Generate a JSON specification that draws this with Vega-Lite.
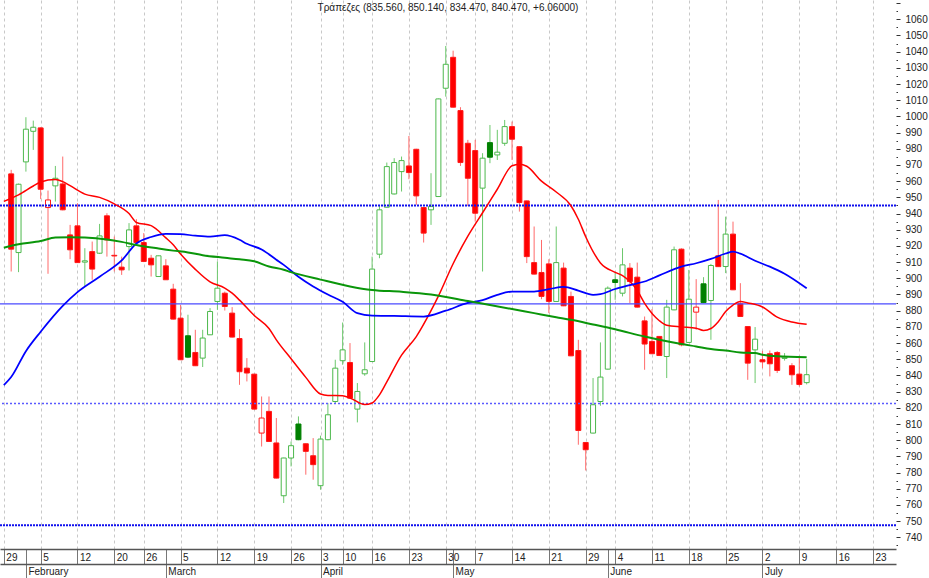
{
  "$schema": "https://vega.github.io/schema/vega-lite/v6.json",
  "width": 896,
  "height": 549,
  "autosize": {"type": "none"},
  "padding": {"left": 0, "top": 0, "right": 33, "bottom": 29},
  "background": "white",
  "config": {
    "view": {"stroke": null},
    "font": "Liberation Sans Narrow, Arial Narrow, Liberation Sans, sans-serif",
    "axis": {"labelOverlap": false, "labelFlush": false, "labelBound": false}
  },
  "title": {"text": "Τράπεζες (835.560, 850.140, 834.470, 840.470, +6.06000)", "fontSize": 10, "fontWeight": "normal", "color": "#222222", "offset": -15, "anchor": "middle"},
  "datasets": {
    "candles": [
      {"i":1,"date":"2018-01-30","open":964.5,"high":967.0,"low":904.2,"close":918.0},
      {"i":2,"date":"2018-01-31","open":915.9,"high":958.5,"low":903.8,"close":958.1},
      {"i":3,"date":"2018-02-01","open":971.9,"high":999.5,"low":965.9,"close":992.1},
      {"i":4,"date":"2018-02-02","open":990.8,"high":997.4,"low":979.3,"close":993.3},
      {"i":5,"date":"2018-02-05","open":992.9,"high":993.2,"low":948.9,"close":955.0},
      {"i":6,"date":"2018-02-06","open":943.7,"high":954.2,"low":902.8,"close":948.4},
      {"i":7,"date":"2018-02-07","open":957.1,"high":969.4,"low":947.4,"close":961.8},
      {"i":8,"date":"2018-02-08","open":958.3,"high":975.2,"low":942.0,"close":942.3},
      {"i":9,"date":"2018-02-09","open":926.8,"high":933.0,"low":911.8,"close":917.6},
      {"i":10,"date":"2018-02-12","open":932.4,"high":946.4,"low":909.5,"close":909.7},
      {"i":11,"date":"2018-02-13","open":910.0,"high":918.6,"low":894.9,"close":910.8},
      {"i":12,"date":"2018-02-14","open":916.5,"high":922.7,"low":899.1,"close":905.7},
      {"i":13,"date":"2018-02-15","open":915.5,"high":933.6,"low":915.0,"close":926.2},
      {"i":14,"date":"2018-02-16","open":938.6,"high":940.2,"low":913.4,"close":923.7},
      {"i":15,"date":"2018-02-20","open":914.2,"high":925.8,"low":904.2,"close":913.8},
      {"i":16,"date":"2018-02-21","open":906.9,"high":913.4,"low":902.1,"close":905.2},
      {"i":17,"date":"2018-02-22","open":919.6,"high":934.1,"low":904.8,"close":929.9},
      {"i":18,"date":"2018-02-23","open":932.4,"high":936.5,"low":922.0,"close":922.1},
      {"i":19,"date":"2018-02-26","open":922.1,"high":927.9,"low":910.0,"close":910.4},
      {"i":20,"date":"2018-02-27","open":912.4,"high":914.5,"low":901.1,"close":908.3},
      {"i":21,"date":"2018-02-28","open":901.1,"high":914.0,"low":900.8,"close":913.9},
      {"i":22,"date":"2018-03-01","open":907.7,"high":911.8,"low":899.0,"close":899.1},
      {"i":23,"date":"2018-03-02","open":893.3,"high":896.6,"low":874.6,"close":874.8},
      {"i":24,"date":"2018-03-05","open":875.4,"high":883.6,"low":849.5,"close":849.7},
      {"i":25,"date":"2018-03-06","open":864.5,"high":877.5,"low":850.7,"close":851.3},
      {"i":26,"date":"2018-03-07","open":854.2,"high":868.2,"low":845.8,"close":846.0},
      {"i":27,"date":"2018-03-08","open":850.7,"high":868.2,"low":845.2,"close":863.1},
      {"i":28,"date":"2018-03-09","open":865.1,"high":881.6,"low":865.0,"close":879.5},
      {"i":29,"date":"2018-03-12","open":885.7,"high":910.4,"low":880.5,"close":893.9},
      {"i":30,"date":"2018-03-13","open":890.8,"high":891.8,"low":880.1,"close":882.6},
      {"i":31,"date":"2018-03-14","open":878.5,"high":882.2,"low":863.5,"close":863.7},
      {"i":32,"date":"2018-03-15","open":862.8,"high":868.6,"low":834.2,"close":842.3},
      {"i":33,"date":"2018-03-16","open":844.5,"high":850.7,"low":836.3,"close":841.5},
      {"i":34,"date":"2018-03-19","open":840.8,"high":841.0,"low":819.0,"close":819.2},
      {"i":35,"date":"2018-03-20","open":804.4,"high":827.0,"low":796.1,"close":813.7},
      {"i":36,"date":"2018-03-21","open":817.8,"high":827.0,"low":799.0,"close":799.2},
      {"i":37,"date":"2018-03-22","open":798.3,"high":813.7,"low":776.4,"close":776.6},
      {"i":38,"date":"2018-03-23","open":765.7,"high":789.2,"low":761.2,"close":789.0},
      {"i":39,"date":"2018-03-26","open":789.0,"high":799.2,"low":783.8,"close":796.6},
      {"i":40,"date":"2018-03-27","open":810.0,"high":814.7,"low":800.0,"close":800.3},
      {"i":41,"date":"2018-03-28","open":797.8,"high":798.0,"low":778.7,"close":793.1},
      {"i":42,"date":"2018-03-29","open":790.4,"high":801.3,"low":775.6,"close":784.9},
      {"i":43,"date":"2018-04-03","open":771.9,"high":802.8,"low":769.4,"close":800.7},
      {"i":44,"date":"2018-04-04","open":800.3,"high":822.9,"low":800.0,"close":815.7},
      {"i":45,"date":"2018-04-05","open":823.9,"high":849.7,"low":822.9,"close":844.5},
      {"i":46,"date":"2018-04-10","open":849.1,"high":872.7,"low":846.6,"close":855.8},
      {"i":47,"date":"2018-04-11","open":848.0,"high":860.0,"low":825.8,"close":826.0},
      {"i":48,"date":"2018-04-12","open":819.2,"high":835.3,"low":811.0,"close":830.1},
      {"i":49,"date":"2018-04-13","open":841.0,"high":860.4,"low":839.8,"close":843.5},
      {"i":50,"date":"2018-04-16","open":848.6,"high":913.4,"low":848.4,"close":905.7},
      {"i":51,"date":"2018-04-17","open":914.9,"high":944.7,"low":912.4,"close":942.3},
      {"i":52,"date":"2018-04-18","open":943.9,"high":971.5,"low":943.5,"close":969.0},
      {"i":53,"date":"2018-04-19","open":952.1,"high":974.2,"low":951.8,"close":971.5},
      {"i":54,"date":"2018-04-20","open":965.9,"high":975.2,"low":953.6,"close":972.7},
      {"i":55,"date":"2018-04-23","open":969.4,"high":987.9,"low":961.2,"close":965.3},
      {"i":56,"date":"2018-04-24","open":979.7,"high":980.0,"low":945.4,"close":950.9},
      {"i":57,"date":"2018-04-25","open":943.7,"high":944.0,"low":922.1,"close":927.9},
      {"i":58,"date":"2018-04-26","open":942.3,"high":964.9,"low":933.0,"close":944.3},
      {"i":59,"date":"2018-04-27","open":950.5,"high":1011.0,"low":950.3,"close":1010.8},
      {"i":60,"date":"2018-04-30","open":1017.4,"high":1043.5,"low":1012.2,"close":1032.2},
      {"i":61,"date":"2018-05-02","open":1036.5,"high":1040.6,"low":1005.5,"close":1005.7},
      {"i":62,"date":"2018-05-03","open":1003.6,"high":1005.7,"low":969.4,"close":971.5},
      {"i":63,"date":"2018-05-04","open":983.4,"high":985.5,"low":944.7,"close":961.8},
      {"i":64,"date":"2018-05-07","open":978.9,"high":985.5,"low":935.0,"close":940.2},
      {"i":65,"date":"2018-05-08","open":955.7,"high":977.3,"low":904.2,"close":974.2},
      {"i":66,"date":"2018-05-09","open":983.8,"high":994.7,"low":971.1,"close":974.8},
      {"i":67,"date":"2018-05-10","open":976.2,"high":991.7,"low":973.1,"close":977.9},
      {"i":68,"date":"2018-05-11","open":983.4,"high":997.8,"low":981.8,"close":993.7},
      {"i":69,"date":"2018-05-14","open":993.7,"high":996.8,"low":973.1,"close":985.9},
      {"i":70,"date":"2018-05-15","open":981.3,"high":981.5,"low":941.2,"close":946.8},
      {"i":71,"date":"2018-05-16","open":947.8,"high":948.0,"low":909.4,"close":913.4},
      {"i":72,"date":"2018-05-17","open":909.7,"high":932.0,"low":902.4,"close":902.6},
      {"i":73,"date":"2018-05-18","open":903.6,"high":923.7,"low":887.1,"close":888.8},
      {"i":74,"date":"2018-05-21","open":908.9,"high":911.8,"low":878.5,"close":885.7},
      {"i":75,"date":"2018-05-22","open":885.7,"high":932.0,"low":885.5,"close":909.7},
      {"i":76,"date":"2018-05-23","open":906.3,"high":909.7,"low":882.8,"close":883.0},
      {"i":77,"date":"2018-05-24","open":888.8,"high":891.8,"low":851.9,"close":852.1},
      {"i":78,"date":"2018-05-25","open":855.4,"high":862.0,"low":797.2,"close":806.0},
      {"i":79,"date":"2018-05-29","open":798.6,"high":798.8,"low":781.3,"close":794.1},
      {"i":80,"date":"2018-05-30","open":804.4,"high":838.4,"low":804.2,"close":821.9},
      {"i":81,"date":"2018-05-31","open":823.9,"high":860.4,"low":821.3,"close":839.0},
      {"i":82,"date":"2018-06-01","open":843.9,"high":895.0,"low":843.7,"close":893.9},
      {"i":83,"date":"2018-06-04","open":899.1,"high":903.2,"low":886.7,"close":897.4},
      {"i":84,"date":"2018-06-05","open":890.8,"high":918.6,"low":888.8,"close":908.3},
      {"i":85,"date":"2018-06-06","open":906.3,"high":909.4,"low":884.7,"close":898.0},
      {"i":86,"date":"2018-06-07","open":900.7,"high":909.7,"low":882.0,"close":882.2},
      {"i":87,"date":"2018-06-08","open":873.7,"high":876.4,"low":843.5,"close":859.4},
      {"i":88,"date":"2018-06-11","open":861.0,"high":881.0,"low":853.2,"close":853.4},
      {"i":89,"date":"2018-06-12","open":864.1,"high":864.3,"low":852.1,"close":852.3},
      {"i":90,"date":"2018-06-13","open":851.7,"high":886.7,"low":838.4,"close":882.2},
      {"i":91,"date":"2018-06-14","open":880.5,"high":919.6,"low":880.3,"close":917.6},
      {"i":92,"date":"2018-06-15","open":918.0,"high":918.5,"low":858.0,"close":858.9},
      {"i":93,"date":"2018-06-18","open":860.4,"high":905.2,"low":860.2,"close":887.1},
      {"i":94,"date":"2018-06-19","open":879.1,"high":899.5,"low":868.2,"close":882.2},
      {"i":95,"date":"2018-06-20","open":896.6,"high":900.7,"low":884.8,"close":885.0},
      {"i":96,"date":"2018-06-21","open":886.3,"high":908.9,"low":862.0,"close":907.9},
      {"i":97,"date":"2018-06-22","open":913.9,"high":948.4,"low":907.0,"close":907.2},
      {"i":98,"date":"2018-06-25","open":907.3,"high":938.1,"low":903.2,"close":927.3},
      {"i":99,"date":"2018-06-26","open":927.3,"high":935.0,"low":892.7,"close":892.9},
      {"i":100,"date":"2018-06-27","open":884.2,"high":897.0,"low":876.2,"close":876.4},
      {"i":101,"date":"2018-06-28","open":870.2,"high":870.4,"low":837.3,"close":847.6},
      {"i":102,"date":"2018-06-29","open":855.8,"high":869.9,"low":835.3,"close":862.4},
      {"i":103,"date":"2018-07-02","open":849.7,"high":855.2,"low":844.5,"close":848.4},
      {"i":104,"date":"2018-07-03","open":853.4,"high":855.4,"low":839.4,"close":847.2},
      {"i":105,"date":"2018-07-04","open":854.2,"high":855.0,"low":841.5,"close":843.1},
      {"i":106,"date":"2018-07-05","open":850.5,"high":853.8,"low":849.2,"close":851.3},
      {"i":107,"date":"2018-07-06","open":846.0,"high":847.6,"low":834.2,"close":840.4},
      {"i":108,"date":"2018-07-09","open":840.8,"high":852.1,"low":833.2,"close":834.41},
      {"i":109,"date":"2018-07-10","open":835.56,"high":850.14,"low":834.47,"close":840.47}
    ],
    "averages": [
      {"i":0,"s":"fast","v":947.5},{"i":2,"s":"fast","v":951.5},{"i":4,"s":"fast","v":957},{"i":5,"s":"fast","v":959.5},{"i":7,"s":"fast","v":961},{"i":8,"s":"fast","v":959.7},{"i":9,"s":"fast","v":957.2},{"i":11,"s":"fast","v":952},{"i":13,"s":"fast","v":950},{"i":15,"s":"fast","v":946},{"i":17,"s":"fast","v":940},{"i":18,"s":"fast","v":934.5},{"i":20,"s":"fast","v":932.5},{"i":22,"s":"fast","v":925},{"i":23,"s":"fast","v":920.7},{"i":24,"s":"fast","v":915},{"i":26,"s":"fast","v":905.5},{"i":28,"s":"fast","v":897.8},{"i":30,"s":"fast","v":894},{"i":31,"s":"fast","v":890.8},{"i":32,"s":"fast","v":886.5},{"i":34,"s":"fast","v":877},{"i":36,"s":"fast","v":869},{"i":37,"s":"fast","v":862},{"i":39,"s":"fast","v":850.3},{"i":41,"s":"fast","v":838.8},{"i":43,"s":"fast","v":828.5},{"i":44,"s":"fast","v":827.6},{"i":46,"s":"fast","v":827.5},{"i":47,"s":"fast","v":826.1},{"i":49,"s":"fast","v":822},{"i":50,"s":"fast","v":823},{"i":51,"s":"fast","v":828},{"i":52,"s":"fast","v":836},{"i":54,"s":"fast","v":852.5},{"i":56,"s":"fast","v":864},{"i":58,"s":"fast","v":880},{"i":59,"s":"fast","v":889},{"i":61,"s":"fast","v":909},{"i":63,"s":"fast","v":926},{"i":65,"s":"fast","v":940.5},{"i":67,"s":"fast","v":955},{"i":69,"s":"fast","v":969.5},{"i":70,"s":"fast","v":970.5},{"i":71,"s":"fast","v":969.2},{"i":73,"s":"fast","v":960},{"i":75,"s":"fast","v":953.3},{"i":77,"s":"fast","v":944.8},{"i":78,"s":"fast","v":936.5},{"i":79,"s":"fast","v":925.7},{"i":81,"s":"fast","v":909.5},{"i":83,"s":"fast","v":903.7},{"i":84,"s":"fast","v":901.6},{"i":86,"s":"fast","v":892.5},{"i":87,"s":"fast","v":884.5},{"i":89,"s":"fast","v":873.8},{"i":90,"s":"fast","v":871},{"i":92,"s":"fast","v":870},{"i":94,"s":"fast","v":869.2},{"i":95,"s":"fast","v":867.8},{"i":96,"s":"fast","v":869},{"i":97,"s":"fast","v":873.2},{"i":98,"s":"fast","v":879.5},{"i":99,"s":"fast","v":883.5},{"i":100,"s":"fast","v":885.7},{"i":101,"s":"fast","v":884.8},{"i":103,"s":"fast","v":882.3},{"i":105,"s":"fast","v":876},{"i":107,"s":"fast","v":873},{"i":109,"s":"fast","v":871.6},
      {"i":0,"s":"mid","v":834},{"i":1,"s":"mid","v":839},{"i":3,"s":"mid","v":855},{"i":5,"s":"mid","v":867},{"i":8,"s":"mid","v":883},{"i":10,"s":"mid","v":891.5},{"i":13,"s":"mid","v":901},{"i":16,"s":"mid","v":911},{"i":18,"s":"mid","v":921.5},{"i":20,"s":"mid","v":925.5},{"i":22,"s":"mid","v":927.5},{"i":24,"s":"mid","v":927.3},{"i":26,"s":"mid","v":926.3},{"i":28,"s":"mid","v":925.7},{"i":30,"s":"mid","v":926.6},{"i":32,"s":"mid","v":923.8},{"i":33,"s":"mid","v":921.3},{"i":35,"s":"mid","v":917.8},{"i":37,"s":"mid","v":911.5},{"i":38,"s":"mid","v":908.3},{"i":40,"s":"mid","v":901},{"i":42,"s":"mid","v":895},{"i":44,"s":"mid","v":890},{"i":46,"s":"mid","v":885.5},{"i":48,"s":"mid","v":878.5},{"i":50,"s":"mid","v":877},{"i":53,"s":"mid","v":876.8},{"i":57,"s":"mid","v":876.4},{"i":60,"s":"mid","v":880},{"i":63,"s":"mid","v":884.8},{"i":65,"s":"mid","v":886.5},{"i":67,"s":"mid","v":889.8},{"i":69,"s":"mid","v":891.8},{"i":72,"s":"mid","v":891.8},{"i":74,"s":"mid","v":893.3},{"i":76,"s":"mid","v":894.7},{"i":78,"s":"mid","v":892.4},{"i":80,"s":"mid","v":889.8},{"i":81,"s":"mid","v":890.2},{"i":83,"s":"mid","v":893.4},{"i":85,"s":"mid","v":895.8},{"i":87,"s":"mid","v":898},{"i":89,"s":"mid","v":901.8},{"i":92,"s":"mid","v":907.2},{"i":94,"s":"mid","v":909.3},{"i":96,"s":"mid","v":912},{"i":98,"s":"mid","v":915.3},{"i":99,"s":"mid","v":916.5},{"i":100,"s":"mid","v":915.2},{"i":102,"s":"mid","v":910.8},{"i":104,"s":"mid","v":907.2},{"i":106,"s":"mid","v":902.8},{"i":109,"s":"mid","v":893.8},
      {"i":0,"s":"slow","v":918.9},{"i":2,"s":"slow","v":921},{"i":5,"s":"slow","v":923},{"i":7,"s":"slow","v":925.2},{"i":9,"s":"slow","v":925.4},{"i":11,"s":"slow","v":925.2},{"i":14,"s":"slow","v":924},{"i":16,"s":"slow","v":922.5},{"i":18,"s":"slow","v":920.6},{"i":21,"s":"slow","v":918.4},{"i":23,"s":"slow","v":917.1},{"i":25,"s":"slow","v":916},{"i":27,"s":"slow","v":914.3},{"i":30,"s":"slow","v":912.7},{"i":32,"s":"slow","v":911.7},{"i":34,"s":"slow","v":910.5},{"i":36,"s":"slow","v":907.3},{"i":38,"s":"slow","v":905.3},{"i":39,"s":"slow","v":903.8},{"i":43,"s":"slow","v":899.2},{"i":47,"s":"slow","v":895},{"i":50,"s":"slow","v":892.8},{"i":54,"s":"slow","v":891.7},{"i":58,"s":"slow","v":890},{"i":63,"s":"slow","v":886},{"i":66,"s":"slow","v":883.5},{"i":69,"s":"slow","v":881},{"i":72,"s":"slow","v":878.5},{"i":75,"s":"slow","v":876},{"i":77,"s":"slow","v":874.4},{"i":80,"s":"slow","v":871.5},{"i":83,"s":"slow","v":868.5},{"i":87,"s":"slow","v":864},{"i":89,"s":"slow","v":862},{"i":92,"s":"slow","v":859.4},{"i":94,"s":"slow","v":857.9},{"i":96,"s":"slow","v":856.3},{"i":98,"s":"slow","v":855.4},{"i":100,"s":"slow","v":854.2},{"i":102,"s":"slow","v":853.8},{"i":103,"s":"slow","v":852.8},{"i":105,"s":"slow","v":851.8},{"i":109,"s":"slow","v":851.3}
    ],
    "levelsHeavy": [{"level": 944.9}, {"level": 747.4}],
    "levelsLight": [{"level": 822.6}],
    "levelsSolid": [{"level": 884.2}],
    "months": [
      {"i":3,"month":"February"},{"i":22,"month":"March"},{"i":43,"month":"April"},
      {"i":61,"month":"May"},{"i":82,"month":"June"},{"i":103,"month":"July"}
    ],
    "minorTicks": [
      {"t":735},{"t":745},{"t":755},{"t":765},{"t":775},{"t":785},{"t":795},{"t":805},{"t":815},{"t":825},{"t":835},{"t":845},{"t":855},{"t":865},{"t":875},{"t":885},{"t":895},{"t":905},{"t":915},{"t":925},{"t":935},{"t":945},{"t":955},{"t":965},{"t":975},{"t":985},{"t":995},{"t":1005},{"t":1015},{"t":1025},{"t":1035},{"t":1045},{"t":1055},{"t":1065}
    ]
  },
  "resolve": {"axis": {"x": "independent", "y": "independent"}},
  "layer": [
    {
      "layer": [
        {
          "data": {"name": "candles"},
          "transform": [{"window": [{"op": "lag", "field": "close", "as": "prev"}], "sort": [{"field": "i", "order": "ascending"}]}],
          "layer": [
            {
              "mark": {"type": "rule", "strokeWidth": 1, "clip": true},
              "encoding": {
                "x": {
                  "field": "i", "type": "quantitative",
                  "scale": {"domain": [0.161, 120.45], "nice": false, "zero": false},
                  "axis": {
                    "orient": "bottom", "title": null, "tickCount": 200,
                    "values": [0,3,5,10,15,19,22,24,29,34,39,43,46,50,55,60,61,64,69,74,79,82,83,88,93,98,103,108,113,118],
                    "labelExpr": "['29','5','12','20','26','5','12','19','26','3','10','16','23','30','7','14','21','29','4','11','18','25','2','9','16','23'][indexof([0,5,10,15,19,24,29,34,39,43,46,50,55,60,64,69,74,79,83,88,93,98,103,108,113,118], datum.value)] || ''",
                    "tickSize": 15, "tickColor": "#777777", "tickWidth": 1,
                    "domainColor": "#555555", "domainWidth": 1.5,
                    "labelAlign": "left", "labelOffset": 2, "labelBaseline": "middle", "labelPadding": -7,
                    "labelFontSize": 10, "labelColor": "#222222", "labelOverlap": false,
                    "grid": true, "gridColor": "#c8c8c8", "gridDash": [3, 3], "gridWidth": 1,
                    "gridOpacity": {"condition": {"test": "indexof([3,22,61,82], datum.value) >= 0", "value": 0}, "value": 1}
                  }
                },
                "y": {
                  "field": "low", "type": "quantitative",
                  "scale": {"domain": [732.8, 1071.9], "nice": false, "zero": false},
                  "axis": {
                    "orient": "right", "title": null, "domain": false, "grid": false, "tickCount": 200,
                    "values": [740,750,760,770,780,790,800,810,820,830,840,850,860,870,880,890,900,910,920,930,940,950,960,970,980,990,1000,1010,1020,1030,1040,1050,1060,1070],
                    "tickSize": 4, "tickColor": "#333333",
                    "labelExpr": "datum.value <= 1060 ? format(datum.value, 'd') : ''",
                    "labelPadding": 5, "labelFontSize": 10, "labelColor": "#222222", "labelOverlap": false, "labelBaseline": "middle"
                  }
                },
                "y2": {"field": "high"},
                "color": {"condition": {"test": "datum.prev != null && datum.close >= datum.prev", "value": "#6cc86c"}, "value": "#ff6a6a"}
              }
            },
            {
              "mark": {"type": "bar", "size": 5, "strokeWidth": 1, "clip": true},
              "encoding": {
                "x": {"field": "i", "type": "quantitative"},
                "y": {"field": "open", "type": "quantitative"},
                "y2": {"field": "close"},
                "fill": {"condition": [
                  {"test": "datum.close >= datum.open", "value": "#ffffff"},
                  {"test": "datum.prev != null && datum.close >= datum.prev", "value": "#008000"}
                ], "value": "#ff0000"},
                "stroke": {"condition": [
                  {"test": "datum.close < datum.open && datum.prev != null && datum.close >= datum.prev", "value": "#008000"},
                  {"test": "datum.prev != null && datum.close >= datum.prev", "value": "#4cb84c"}
                ], "value": "#ff1a1a"}
              }
            }
          ]
        },
        {
          "data": {"name": "levelsSolid"},
          "mark": {"type": "rule", "color": "#4a4aff", "strokeWidth": 1.2},
          "encoding": {"y": {"field": "level", "type": "quantitative"}}
        },
        {
          "data": {"name": "levelsLight"},
          "mark": {"type": "rule", "color": "#5a5aff", "strokeWidth": 1.5, "strokeDash": [2, 2]},
          "encoding": {"y": {"field": "level", "type": "quantitative"}}
        },
        {
          "data": {"name": "levelsHeavy"},
          "mark": {"type": "rule", "color": "#1010ee", "strokeWidth": 2, "strokeDash": [2, 1]},
          "encoding": {"y": {"field": "level", "type": "quantitative"}}
        },
        {
          "data": {"name": "averages"},
          "mark": {"type": "line", "interpolate": "monotone", "clip": true},
          "encoding": {
            "x": {"field": "i", "type": "quantitative"},
            "y": {"field": "v", "type": "quantitative"},
            "color": {"field": "s", "type": "nominal", "scale": {"domain": ["fast", "mid", "slow"], "range": ["#ff0000", "#0000ff", "#0a960a"]}, "legend": null},
            "strokeWidth": {"field": "s", "type": "nominal", "scale": {"domain": ["fast", "mid", "slow"], "range": [1.5, 2, 2]}, "legend": null}
          }
        }
      ]
    },
    {
      "data": {"name": "months"},
      "mark": {"type": "rule", "opacity": 0},
      "encoding": {
        "x": {
          "field": "i", "type": "quantitative",
          "scale": {"domain": [0.161, 120.45], "nice": false, "zero": false},
          "axis": {
            "orient": "bottom", "offset": 15, "title": null, "tickCount": 200,
            "values": [3,22,43,61,82,103],
            "labelExpr": "['February','March','April','May','June','July'][indexof([3,22,43,61,82,103], datum.value)]",
            "tickSize": 14, "tickColor": "#777777", "tickWidth": 1,
            "domainColor": "#555555", "domainWidth": 1.5,
            "labelAlign": "left", "labelOffset": 2, "labelBaseline": "middle", "labelPadding": -7,
            "labelFontSize": 10, "labelColor": "#222222", "labelOverlap": false, "grid": false
          }
        }
      }
    },
    {
      "data": {"name": "minorTicks"},
      "mark": {"type": "rule", "opacity": 0},
      "encoding": {
        "y": {
          "field": "t", "type": "quantitative",
          "scale": {"domain": [732.8, 1071.9], "nice": false, "zero": false},
          "axis": {
            "orient": "right", "title": null, "domain": false, "grid": false, "labels": false, "tickCount": 200,
            "values": [735,745,755,765,775,785,795,805,815,825,835,845,855,865,875,885,895,905,915,925,935,945,955,965,975,985,995,1005,1015,1025,1035,1045,1055,1065],
            "tickSize": 1.5, "tickColor": "#333333"
          }
        }
      }
    }
  ]
}
